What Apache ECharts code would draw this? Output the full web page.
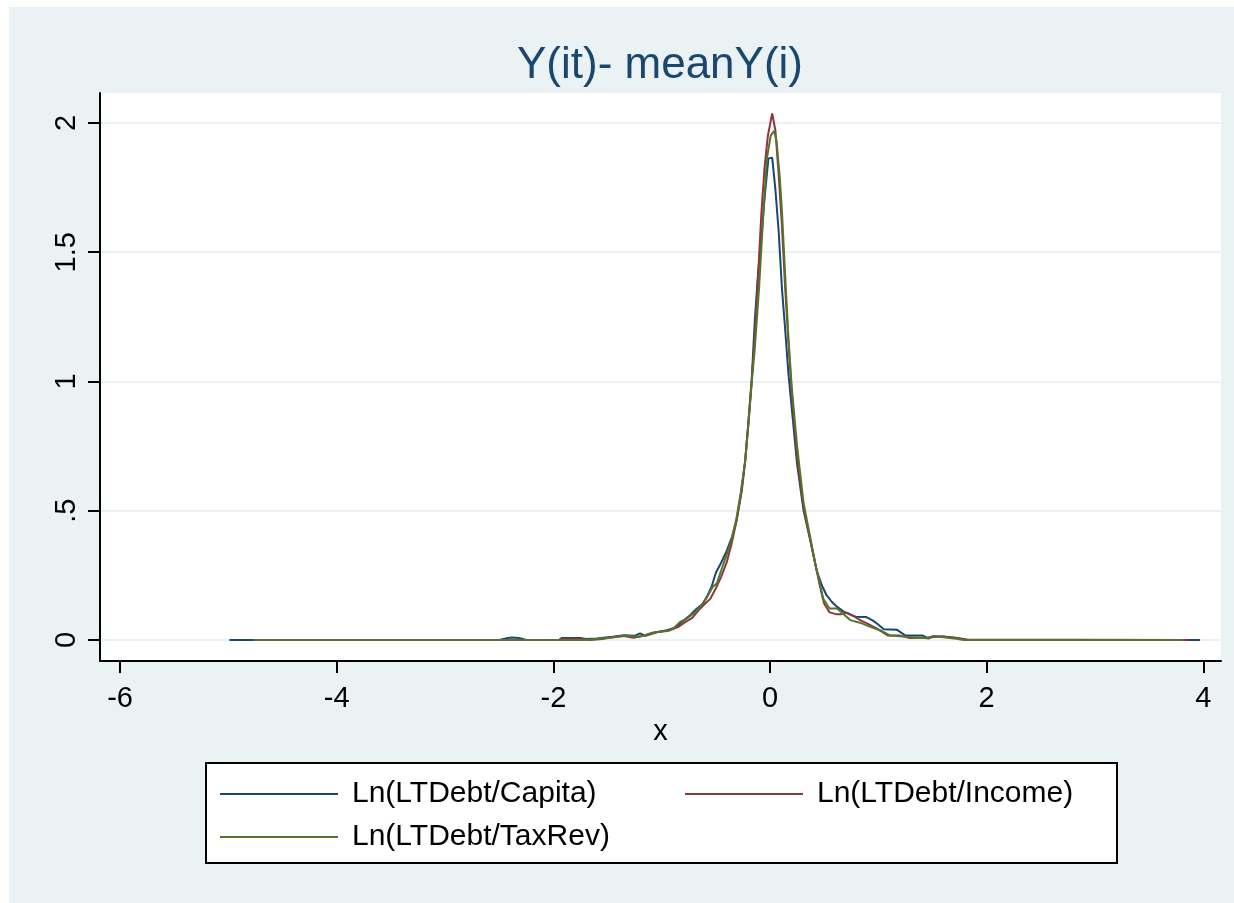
<!DOCTYPE html>
<html>
<head>
<meta charset="utf-8">
<title>Y(it)- meanY(i)</title>
<script src="https://cdn.jsdelivr.net/npm/echarts@6/dist/echarts.min.js"></script>
<style>
  html, body { margin: 0; padding: 0; background: #ffffff; }
  #chart { position: absolute; left: 9px; top: 7px; width: 1225px; height: 896px; }
</style>
</head>
<body>
<div id="chart"></div>
<script>
// Kernel density estimates of the within-unit deviations
const seriesNames = ['Ln(LTDebt/Capita)', 'Ln(LTDebt/Income)', 'Ln(LTDebt/TaxRev)'];

const capitaX = [-4.99, -2.5, -2.42, -2.38, -2.32, -2.25, -1.95, -1.92, -1.75, -1.7, -1.6, -1.45, -1.35, -1.25, -1.2, -1.15,
  -1.05, -0.95, -0.88, -0.8, -0.74, -0.68, -0.62, -0.58, -0.54, -0.5, -0.45, -0.4, -0.35, -0.31, -0.26, -0.23, -0.2,
  -0.17, -0.14, -0.11, -0.08, -0.05, -0.015, 0.02, 0.05, 0.08, 0.11, 0.14, 0.17, 0.2, 0.25, 0.31, 0.37, 0.43, 0.48,
  0.52, 0.57, 0.62, 0.68, 0.73, 0.79, 0.89, 0.95, 0.99, 1.05, 1.17, 1.25, 1.41, 1.46, 1.51, 1.6, 1.72, 1.82, 3.97];
const capitaY = [0, 0, 0.008, 0.01, 0.008, 0, 0, 0.008, 0.008, 0.004, 0.006, 0.013, 0.018, 0.016, 0.026, 0.016,
  0.03, 0.038, 0.048, 0.075, 0.095, 0.12, 0.14, 0.17, 0.205, 0.26, 0.3, 0.345, 0.4, 0.46, 0.58, 0.69, 0.84,
  1.0, 1.24, 1.42, 1.56, 1.71, 1.863, 1.866, 1.74, 1.58, 1.36, 1.2, 1.03, 0.9, 0.68, 0.5, 0.39, 0.27, 0.21,
  0.175, 0.148, 0.128, 0.11, 0.1, 0.09, 0.089, 0.075, 0.063, 0.042, 0.04, 0.017, 0.017, 0.006, 0.014, 0.014, 0.008, 0, 0];

const incomeX = [-4.75, -1.95, -1.9, -1.75, -1.66, -1.55, -1.45, -1.35, -1.26, -1.15, -1.05, -0.92, -0.85, -0.78,
  -0.72, -0.66, -0.6, -0.55, -0.5, -0.45, -0.4, -0.35, -0.31, -0.27, -0.23, -0.2, -0.17, -0.14, -0.11, -0.08,
  -0.05, -0.02, 0.02, 0.05, 0.08, 0.11, 0.14, 0.17, 0.2, 0.25, 0.31, 0.37, 0.42, 0.46, 0.5, 0.55, 0.61, 0.66,
  0.71, 0.78, 0.84, 0.89, 0.98, 1.09, 1.2, 1.29, 1.45, 1.58, 1.69, 1.82, 3.86];
const incomeY = [0, 0, 0.004, 0.004, 0, 0.004, 0.012, 0.015, 0.009, 0.018, 0.03, 0.038, 0.05, 0.07,
  0.085, 0.115, 0.14, 0.16, 0.2, 0.245, 0.3, 0.38, 0.46, 0.56, 0.69, 0.84, 1.0, 1.18, 1.41, 1.65,
  1.83, 1.95, 2.037, 1.97, 1.8, 1.6, 1.36, 1.15, 0.96, 0.71, 0.51, 0.39, 0.29, 0.21, 0.14, 0.107, 0.1, 0.1,
  0.106, 0.09, 0.075, 0.065, 0.046, 0.017, 0.017, 0.008, 0.01, 0.014, 0.01, 0.002, 0];

const taxRevX = [-4.77, -1.72, -1.6, -1.45, -1.35, -1.2, -1.08, -0.95, -0.89, -0.83, -0.76, -0.7, -0.64, -0.59,
  -0.53, -0.49, -0.45, -0.4, -0.36, -0.31, -0.27, -0.23, -0.2, -0.17, -0.14, -0.1, -0.06, -0.03, 0.006, 0.037,
  0.06, 0.09, 0.11, 0.14, 0.17, 0.2, 0.25, 0.31, 0.37, 0.42, 0.46, 0.49, 0.55, 0.62, 0.68, 0.74, 0.83, 0.92,
  1.02, 1.11, 1.23, 1.45, 1.51, 1.6, 1.72, 1.79, 3.81];
const taxRevY = [0, 0, 0.004, 0.01, 0.017, 0.013, 0.029, 0.035, 0.045, 0.07, 0.085, 0.105, 0.13, 0.16,
  0.205, 0.22, 0.27, 0.33, 0.38, 0.47, 0.57, 0.69, 0.83, 0.99, 1.13, 1.37, 1.66, 1.86, 1.95, 1.97,
  1.93, 1.79, 1.66, 1.41, 1.17, 0.98, 0.75, 0.53, 0.4, 0.29, 0.22, 0.16, 0.122, 0.122, 0.1, 0.077, 0.067, 0.052,
  0.037, 0.017, 0.014, 0.007, 0.016, 0.011, 0.005, 0, 0];

const xTicks = [-6, -4, -2, 0, 2, 4];
const yTicks = [0, 0.5, 1, 1.5, 2];
const yTickLabels = ['0', '.5', '1', '1.5', '2'];
const titleText = 'Y(it)- meanY(i)';
const xAxisTitle = 'x';

const colors = ['#1a476f', '#90353b', '#55752f'];
const FONT = '"Liberation Sans", Arial, Helvetica, sans-serif';

function pairs(xs, ys) { return xs.map((x, i) => [x, ys[i]]); }
const seriesData = [pairs(capitaX, capitaY), pairs(incomeX, incomeY), pairs(taxRevX, taxRevY)];

const chart = echarts.init(document.getElementById('chart'), null, { renderer: 'canvas' });

// legend entries sit in a boxed key below the plot: two on the first row, one on the second
const legendSpots = [[211, 772], [676, 772], [211, 815]];

const option = {
  backgroundColor: '#eaf2f3',
  animation: false,
  color: colors,
  grid: {
    left: 91, top: 86, width: 1121, height: 568,
    show: true, backgroundColor: '#ffffff', borderWidth: 0
  },
  xAxis: {
    type: 'value', min: -6.185, max: 4.163,
    name: xAxisTitle, nameLocation: 'middle', nameGap: 52,
    nameTextStyle: { fontFamily: FONT, fontSize: 29, color: '#000' },
    axisLine: { show: true, onZero: false, lineStyle: { color: '#000', width: 2 } },
    axisTick: { show: true, customValues: xTicks, length: 12, lineStyle: { color: '#000', width: 2 } },
    axisLabel: { customValues: xTicks, margin: 23, fontFamily: FONT, fontSize: 29, color: '#000' },
    splitLine: { show: false }
  },
  yAxis: {
    type: 'value', min: -0.0812, max: 2.116,
    axisLine: { show: true, onZero: false, lineStyle: { color: '#000', width: 2 } },
    axisTick: { show: true, customValues: yTicks, length: 12, lineStyle: { color: '#000', width: 2 } },
    axisLabel: {
      customValues: yTicks, rotate: 90, margin: 19,
      fontFamily: FONT, fontSize: 29, color: '#000',
      formatter: v => yTickLabels[yTicks.indexOf(v)] ?? String(v)
    },
    splitLine: { show: true, lineStyle: { color: '#eaf2f3', width: 2 } }
  },
  legend: seriesNames.map((name, i) => ({
    data: [name],
    left: legendSpots[i][0], top: legendSpots[i][1],
    padding: 0,
    icon: 'rect',
    itemWidth: 118, itemHeight: 2,
    selectedMode: false,
    textStyle: { fontFamily: FONT, fontSize: 30, color: '#000', padding: [6, 0, 0, 9] }
  })),
  graphic: [
    {
      type: 'rect', z: 0,
      shape: { x: 197, y: 756, width: 911, height: 100 },
      style: { fill: '#ffffff', stroke: '#000000', lineWidth: 2 }
    },
    {
      type: 'text', z: 5,
      x: 651, y: 59,
      style: {
        text: titleText, fill: '#1a476f',
        font: '44px ' + FONT,
        align: 'center', verticalAlign: 'middle',
        textAlign: 'center', textVerticalAlign: 'middle'
      }
    }
  ],
  series: seriesNames.map((name, i) => ({
    name: name,
    type: 'line',
    data: seriesData[i],
    symbol: 'none',
    smooth: false,
    lineStyle: { color: colors[i], width: 2 },
    itemStyle: { color: colors[i] },
    z: 2 + i
  }))
};

chart.setOption(option);
</script>
</body>
</html>
